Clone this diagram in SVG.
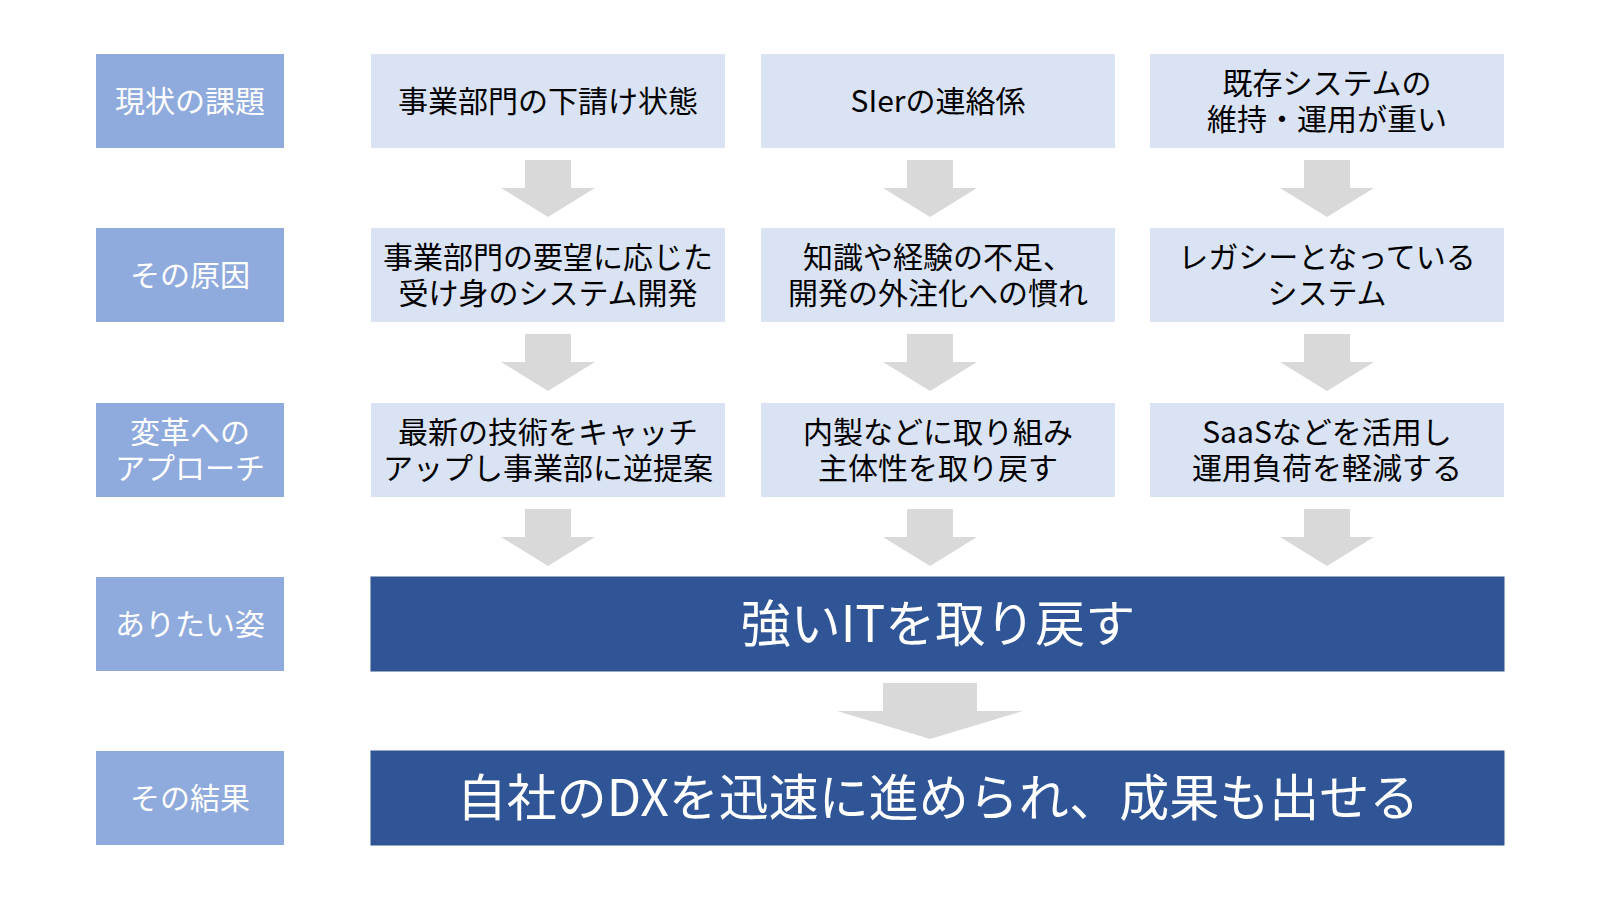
<svg xmlns="http://www.w3.org/2000/svg" width="1600" height="900" viewBox="0 0 1600 900">
<style>
text{font-family:"Noto Sans CJK JP","Noto Sans",sans-serif;text-anchor:middle}
.lab rect{fill:#8FAADC}
.lab text{fill:#FFFFFF;font-size:30px}
.box rect{fill:#DAE3F3}
.box text{fill:#000000;font-size:30px}
.big rect{fill:#2F5597;stroke:#2F528F;stroke-width:1}
.big text{fill:#FFFFFF;font-size:50px}
.arr{fill:#D9D9D9}
</style>
<rect width="1600" height="900" fill="#FFFFFF"/>
<g id="label-1" class="lab"><rect x="96" y="54" width="188" height="94"/><text x="190" y="112">現状の課題</text></g>
<g id="label-2" class="lab"><rect x="96" y="228" width="188" height="94"/><text x="190" y="286">その原因</text></g>
<g id="label-3" class="lab"><rect x="96" y="403" width="188" height="94"/><text x="190" y="443">変革への</text><text x="190" y="479">アプローチ</text></g>
<g id="label-4" class="lab"><rect x="96" y="577" width="188" height="94"/><text x="190" y="635">ありたい姿</text></g>
<g id="label-5" class="lab"><rect x="96" y="751" width="188" height="94"/><text x="190" y="809">その結果</text></g>

<g id="issue-1" class="box"><rect x="371" y="54" width="354" height="94"/><text x="548" y="112">事業部門の下請け状態</text></g>
<g id="issue-2" class="box"><rect x="761" y="54" width="354" height="94"/><text x="938" y="112">SIerの連絡係</text></g>
<g id="issue-3" class="box"><rect x="1150" y="54" width="354" height="94"/><text x="1327" y="94">既存システムの</text><text x="1327" y="130">維持・運用が重い</text></g>

<g id="cause-1" class="box"><rect x="371" y="228" width="354" height="94"/><text x="548" y="268">事業部門の要望に応じた</text><text x="548" y="304">受け身のシステム開発</text></g>
<g id="cause-2" class="box"><rect x="761" y="228" width="354" height="94"/><text x="938" y="268">知識や経験の不足、</text><text x="938" y="304">開発の外注化への慣れ</text></g>
<g id="cause-3" class="box"><rect x="1150" y="228" width="354" height="94"/><text x="1327" y="268">レガシーとなっている</text><text x="1327" y="304">システム</text></g>

<g id="approach-1" class="box"><rect x="371" y="403" width="354" height="94"/><text x="548" y="443">最新の技術をキャッチ</text><text x="548" y="479">アップし事業部に逆提案</text></g>
<g id="approach-2" class="box"><rect x="761" y="403" width="354" height="94"/><text x="938" y="443">内製などに取り組み</text><text x="938" y="479">主体性を取り戻す</text></g>
<g id="approach-3" class="box"><rect x="1150" y="403" width="354" height="94"/><text x="1327" y="443">SaaSなどを活用し</text><text x="1327" y="479">運用負荷を軽減する</text></g>

<g id="goal" class="big"><rect x="371" y="577" width="1133" height="94"/><text x="938" y="642">強いITを取り戻す</text></g>
<g id="result" class="big"><rect x="371" y="751" width="1133" height="94"/><text x="938" y="816">自社のDXを迅速に進められ、成果も出せる</text></g>

<g id="connectors" class="arr">
<path d="M525 160H571V188H595L548 217L501 188H525Z"/>
<path d="M907 160H953V188H977L930 217L883 188H907Z"/>
<path d="M1304 160H1350V188H1374L1327 217L1280 188H1304Z"/>
<path d="M525 334H571V362H595L548 391L501 362H525Z"/>
<path d="M907 334H953V362H977L930 391L883 362H907Z"/>
<path d="M1304 334H1350V362H1374L1327 391L1280 362H1304Z"/>
<path d="M525 509H571V537H595L548 566L501 537H525Z"/>
<path d="M907 509H953V537H977L930 566L883 537H907Z"/>
<path d="M1304 509H1350V537H1374L1327 566L1280 537H1304Z"/>
<path d="M883 683H977V711H1023L930 739L837 711H883Z"/>
</g>
</svg>
